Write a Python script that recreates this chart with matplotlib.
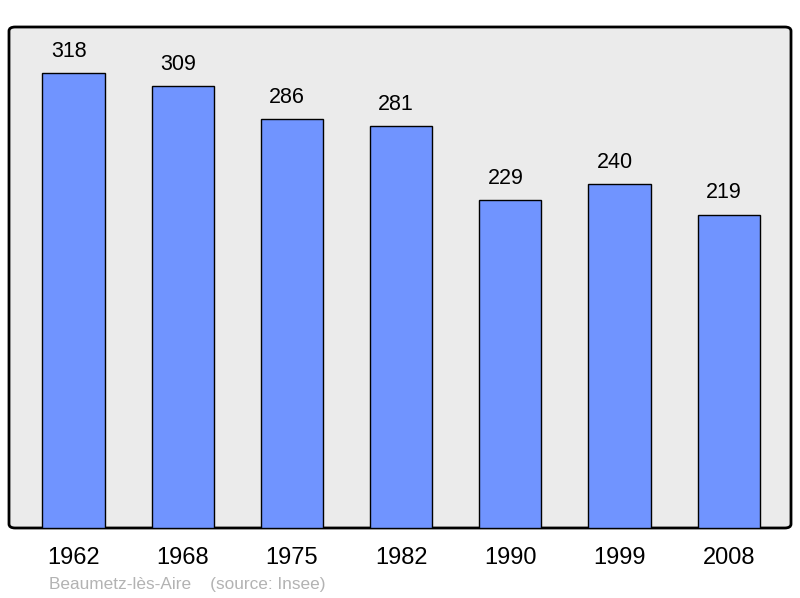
import numpy as np
import matplotlib.pyplot as plt
from matplotlib.patches import FancyBboxPatch

plt.rcParams['font.family'] = ['Liberation Sans', 'DejaVu Sans']

years = ['1962', '1968', '1975', '1982', '1990', '1999', '2008']
population = [318, 309, 286, 281, 229, 240, 219]
title = 'Beaumetz-lès-Aire    (source: Insee)'

fig = plt.figure(figsize=(8, 5.98), dpi=100)
ax = fig.add_axes([9 / 800, 70 / 598, 782 / 800, 501 / 598])
ax.set_facecolor('none')

x = np.arange(len(years))
ax.bar(x, population, width=0.57, color='#7094ff', edgecolor='black', linewidth=1.0, zorder=2)
for xi, v in zip(x, population):
    ax.annotate(str(v), (xi, v), xytext=(-3.5, 15.5), textcoords='offset points',
                ha='center', va='center', fontsize=15.5, color='black')

ax.set_xlim(-0.59, 6.57)
ax.set_ylim(0, 350)
ax.set_xticks(x)
ax.set_xticklabels(years, fontsize=17)
ax.tick_params(axis='x', length=0, pad=14)
ax.set_yticks([])
for s in ax.spines.values():
    s.set_visible(False)

frame = FancyBboxPatch((0, 0), 1, 1, boxstyle='round,pad=0,rounding_size=0.008',
                       transform=ax.transAxes, facecolor='#ebebeb', edgecolor='black',
                       linewidth=2, zorder=0, clip_on=False)
ax.add_patch(frame)

fig.text(49 / 800, 1 - 584 / 598, title, fontsize=12.4, color='#b3b3b3', ha='left', va='center')

fig.savefig('out.png', dpi=100)
